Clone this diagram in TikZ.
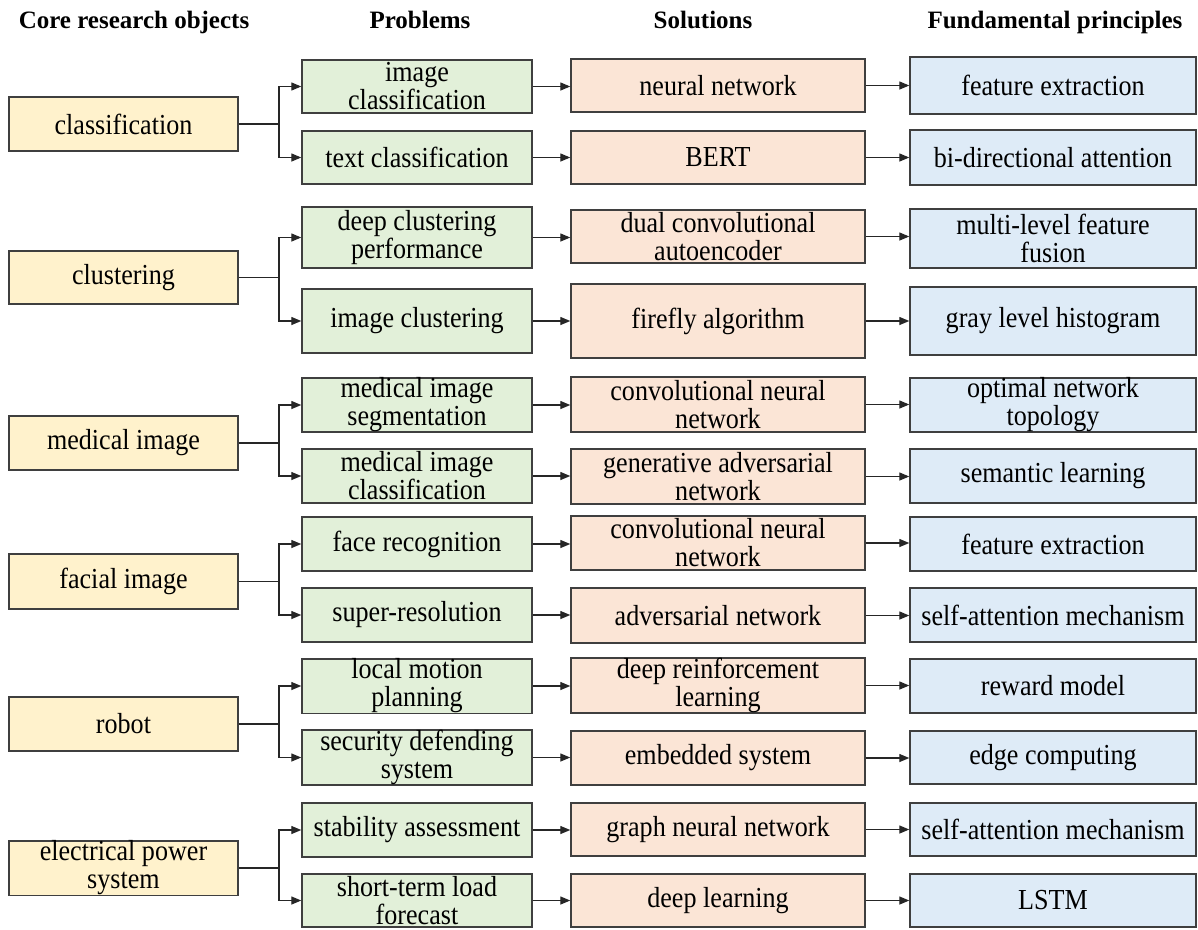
\documentclass[tikz,border=0pt]{standalone}
\usepackage{fontspec}
\setmainfont{Liberation Serif}
\newfontfamily\boxfont[FakeStretch=0.9]{Liberation Serif}
\usetikzlibrary{arrows.meta}
\definecolor{yfill}{HTML}{FFF2CC}
\definecolor{gfill}{HTML}{E2F0D9}
\definecolor{sfill}{HTML}{FBE5D6}
\definecolor{bfill}{HTML}{DEEBF7}
\definecolor{edge}{HTML}{3F3F3F}
\begin{document}
\begin{tikzpicture}[x=1pt,y=-1pt,
  box/.style={draw=edge, line width=1.4pt, rectangle, inner sep=0pt, align=center,
    font=\boxfont\fontsize{29}{28}\selectfont, text=black},
  ybox/.style={box, fill=yfill, minimum width=229pt},
  gbox/.style={box, fill=gfill, minimum width=230pt},
  sbox/.style={box, fill=sfill, minimum width=294pt},
  bbox/.style={box, fill=bfill, minimum width=286pt},
  head/.style={font=\fontsize{25}{26}\selectfont\bfseries, anchor=base, inner sep=0pt},
  conn/.style={draw=black!85, line width=1.3pt},
  arr/.style={conn, -{Triangle[length=10pt,width=8pt]}}]
\useasboundingbox (0,0) rectangle (1198,929);

% headers
\node[head] (h1) at (134,28) {Core research objects};
\node[head] (h2) at (420,28) {Problems};
\node[head] (h3) at (703,28) {Solutions};
\node[head] (h4) at (1055,28) {Fundamental principles};

% ---- classification
\node[ybox, minimum height=54pt] (y1) at (123.5,124) {classification};
\node[gbox, minimum height=53pt] (g1) at (417,86.5) {image\\classification};
\node[gbox, minimum height=53pt] (g2) at (417,157.5) {text classification};
\node[sbox, minimum height=53pt] (s1) at (718,85.5) {neural network};
\node[sbox, minimum height=53pt] (s2) at (718,157.5) {BERT};
\node[bbox, minimum height=57pt] (b1) at (1053,85.5) {feature extraction};
\node[bbox, minimum height=55pt] (b2) at (1053,157.5) {bi-directional attention};

% ---- clustering
\node[ybox, minimum height=53pt] (y2) at (123.5,277.5) {clustering};
\node[gbox, minimum height=61pt] (g3) at (417,237.5) {deep clustering\\performance};
\node[gbox, minimum height=64pt] (g4) at (417,321) {image clustering};
\node[sbox, minimum height=53pt] (s3) at (718,236.5) {dual convolutional\\autoencoder};
\node[sbox, minimum height=74pt] (s4) at (718,321) {firefly algorithm};
\node[bbox, minimum height=59pt] (b3) at (1053,238.5) {multi-level feature\\fusion};
\node[bbox, minimum height=68pt] (b4) at (1053,321) {gray level histogram};

% ---- medical image
\node[ybox, minimum height=54pt] (y3) at (123.5,443) {medical image};
\node[gbox, minimum height=54pt] (g5) at (417,405) {medical image\\segmentation};
\node[gbox, minimum height=54pt] (g6) at (417,476) {medical image\\classification};
\node[sbox, minimum height=55pt] (s5) at (718,404.5) {convolutional neural\\network};
\node[sbox, minimum height=55pt] (s6) at (718,476.5) {generative adversarial\\network};
\node[bbox, minimum height=54pt] (b5) at (1053,405) {optimal network\\topology};
\node[bbox, minimum height=54pt] (b6) at (1053,476) {semantic learning};

% ---- facial image
\node[ybox, minimum height=55pt] (y4) at (123.5,581.5) {facial image};
\node[gbox, minimum height=54pt] (g7) at (417,544) {face recognition};
\node[gbox, minimum height=54pt] (g8) at (417,615) {super-resolution};
\node[sbox, minimum height=54pt] (s7) at (718,543) {convolutional neural\\network};
\node[sbox, minimum height=55pt] (s8) at (718,615.5) {adversarial network};
\node[bbox, minimum height=54pt] (b7) at (1053,544) {feature extraction};
\node[bbox, minimum height=54pt] (b8) at (1053,615) {self-attention mechanism};

% ---- robot
\node[ybox, minimum height=54pt] (y5) at (123.5,724) {robot};
\node[gbox, minimum height=54pt] (g9) at (417,686) {local motion\\planning};
\node[gbox, minimum height=53pt] (g10) at (417,757.5) {security defending\\system};
\node[sbox, minimum height=53pt] (s9) at (718,685.5) {deep reinforcement\\learning};
\node[sbox, minimum height=54pt] (s10) at (718,758) {embedded system};
\node[bbox, minimum height=54pt] (b9) at (1053,686) {reward model};
\node[bbox, minimum height=53pt] (b10) at (1053,757.5) {edge computing};

% ---- electrical power system
\node[ybox, minimum height=54pt] (y6) at (123.5,868) {electrical power\\system};
\node[gbox, minimum height=54pt] (g11) at (417,830) {stability assessment};
\node[gbox, minimum height=53pt] (g12) at (417,900.5) {short-term load\\forecast};
\node[sbox, minimum height=53pt] (s11) at (718,829.5) {graph neural network};
\node[sbox, minimum height=53pt] (s12) at (718,900.5) {deep learning};
\node[bbox, minimum height=53pt] (b11) at (1053,829.5) {self-attention mechanism};
\node[bbox, minimum height=53pt] (b12) at (1053,900.5) {LSTM};

% junctions
\foreach \i/\a/\b in {1/1/2,2/3/4,3/5/6,4/7/8,5/9/10,6/11/12}{
  \coordinate (j\i) at (y\i.east -| 279,0);
  \draw[conn] (y\i.east) -- (j\i);
  \draw[arr] (j\i) |- (g\a.west);
  \draw[arr] (j\i) |- (g\b.west);
}
\foreach \k in {1,...,12}{
  \draw[arr] (g\k.east) -- (g\k.east -| s\k.west);
  \draw[arr] (s\k.east) -- (s\k.east -| b\k.west);
}
\end{tikzpicture}
\end{document}
